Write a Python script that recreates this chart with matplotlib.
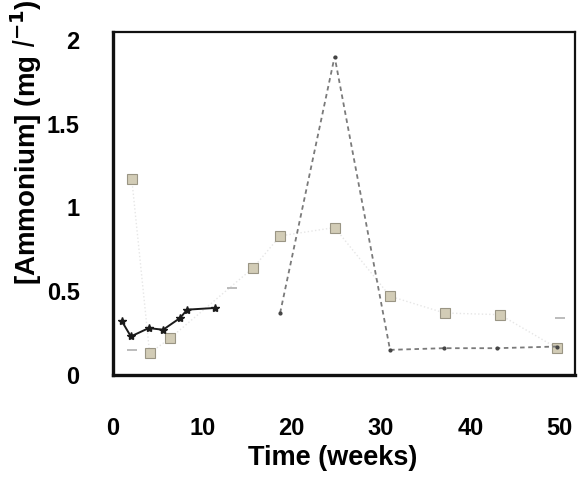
import matplotlib
matplotlib.use("Agg")
import matplotlib.pyplot as plt

plt.rcParams['font.family'] = ['Liberation Sans', 'DejaVu Sans']

# Site 1: black line with star markers
weeks_a = [1, 2, 4, 5.6, 7.5, 8.3, 11.4]
nh4_a = [0.32, 0.23, 0.28, 0.27, 0.34, 0.39, 0.40]

# Site 2: dashed line
weeks_b = [18.7, 24.8, 31.0, 37.0, 43.0, 49.7]
nh4_b = [0.37, 1.90, 0.15, 0.16, 0.16, 0.17]

# Site 3: grey squares
weeks_c = [2.1, 4.1, 6.4, 15.7, 18.7, 24.8, 31.0, 37.1, 43.3, 49.7]
nh4_c = [1.17, 0.13, 0.22, 0.64, 0.83, 0.88, 0.47, 0.37, 0.36, 0.16]

# Site 4: faint points
weeks_d = [2.1, 13.3, 50.0]
nh4_d = [0.15, 0.52, 0.34]

x_ticks = [0, 10, 20, 30, 40, 50]
y_ticks = [0, 0.5, 1, 1.5, 2]
y_tick_labels = ['0', '0.5', '1', '1.5', '2']

fig = plt.figure(figsize=(5.84, 4.82), dpi=100)
ax = fig.add_axes([113/584, 1-375/482, 462/584, 343/482])

ax.plot(weeks_c, nh4_c, linestyle=':', color='#e6e6e6', lw=1.0,
        marker='s', ms=6.5, mfc='#d2ccb6', mec='#9a9584', mew=0.8)
ax.plot(weeks_b, nh4_b, linestyle=(0, (2.5, 2)), color='#7a7a7a', lw=1.3,
        marker='.', ms=4, mfc='#444444', mec='#444444')
ax.plot(weeks_a, nh4_a, linestyle='-', color='#1a1a1a', lw=1.4,
        marker='*', ms=6, mfc='#1a1a1a', mec='#1a1a1a')
ax.plot(weeks_d, nh4_d, linestyle='none', marker='_', ms=7,
        color='#aaaaaa', mew=1.1)

ax.set_xlim(0, 51.7)
ax.set_ylim(0.035, 2.047)
ax.set_xticks(x_ticks)
ax.set_xticklabels([str(t) for t in x_ticks])
ax.set_yticks(y_ticks)
ax.set_yticklabels(y_tick_labels)
ax.tick_params(axis='both', length=0, labelsize=17)
ax.tick_params(axis='x', pad=30)
ax.tick_params(axis='y', pad=24)
for lab in ax.get_xticklabels() + ax.get_yticklabels():
    lab.set_fontweight('bold')

for side in ['left', 'bottom']:
    ax.spines[side].set_linewidth(2.4)
for side in ['top', 'right']:
    ax.spines[side].set_linewidth(1.6)
for s in ax.spines.values():
    s.set_color('#111111')

ax.set_xlabel('Time (weeks)', fontsize=19.5, fontweight='bold')
ax.xaxis.set_label_coords(0.476, -0.205)
ax.set_ylabel(r'[Ammonium] (mg $\mathbf{\mathit{l}}^{\mathbf{-1}}$)', fontsize=20, fontweight='bold')
ax.yaxis.set_label_coords(-0.15, 0.68)

fig.savefig('out.png', dpi=100)
